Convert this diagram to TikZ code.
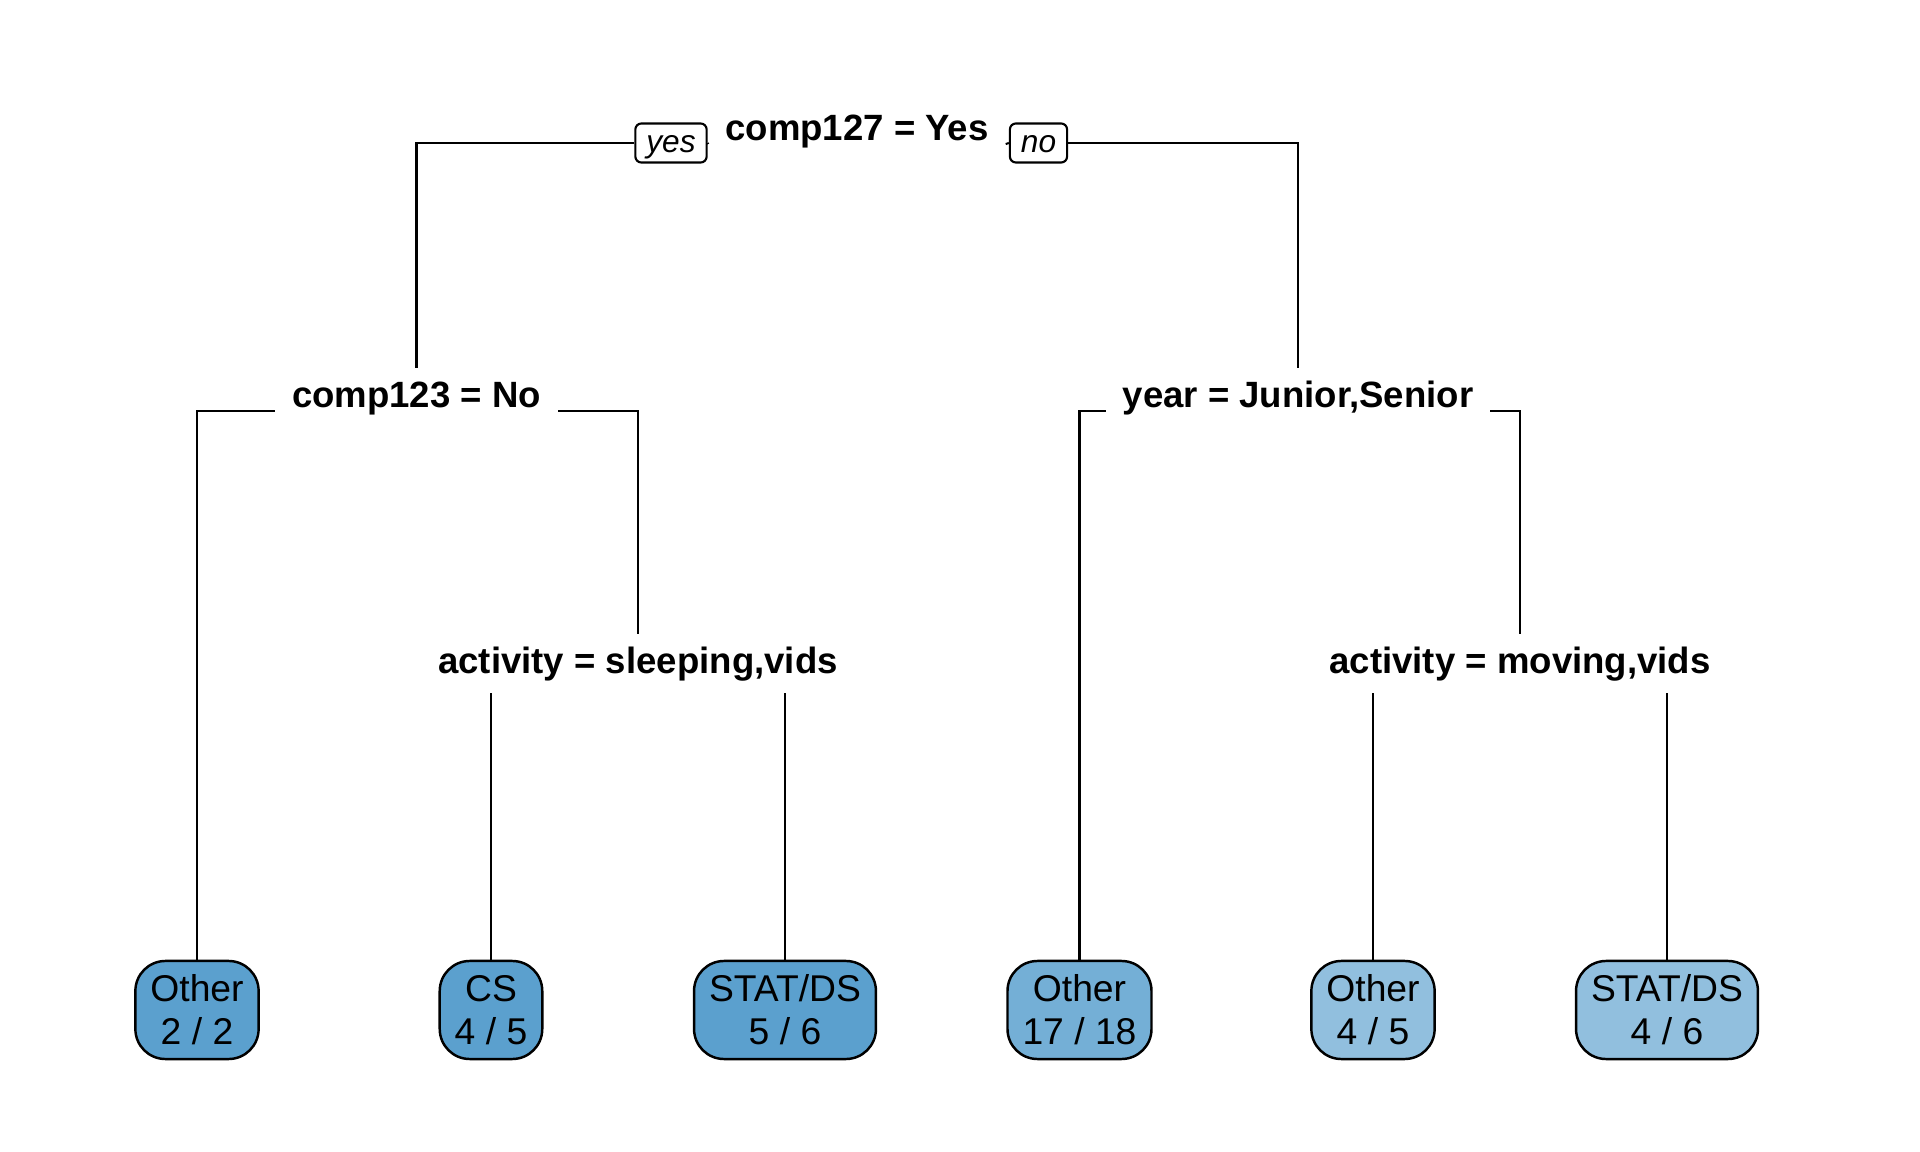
\documentclass[tikz,border=0pt]{standalone}
\usepackage{fontspec}
\setmainfont{Liberation Sans}
\definecolor{bleuA}{RGB}{91,160,206}
\definecolor{bleuB}{RGB}{116,175,214}
\definecolor{bleuC}{RGB}{145,191,222}
\begin{document}
\begin{tikzpicture}[x=0.01cm,y=-0.01cm,line width=0.6pt,
  coupe/.style={font=\fontsize{10.4}{12}\selectfont\bfseries,inner xsep=0.16cm,inner ysep=0pt,
    text height=0.39cm,text depth=0.02cm,anchor=base},
  feuille/.style={draw,line width=0.7pt,rounded corners=0.3cm,inner xsep=0.15cm,
    minimum height=0.98cm,align=center,font=\fontsize{10.6}{12.23}\selectfont},
  etiq/.style={draw,rounded corners=0.06cm,inner xsep=0.11cm,inner ysep=0pt,
    text height=0.24cm,text depth=0.04cm,minimum height=0.39cm,font=\fontsize{9}{10}\selectfont\itshape}]
\useasboundingbox (0,0) rectangle (1920,1152);

% noeuds de coupe
\node[coupe] (root) at (857,141) {comp127 = Yes};
\node[coupe] (c123) at (416.5,408) {comp123 = No};
\node[coupe] (year) at (1298,408) {year = Junior,Senior};
\node[coupe] (act1) at (638,674) {activity = sleeping,vids};
\node[coupe] (act2) at (1520,674) {activity = moving,vids};
\node[etiq] (yes) at (671,143) {yes};
\node[etiq] (no) at (1038.5,143) {no};

% feuilles
\node[feuille,fill=bleuA] (f1) at (197,1010) {Other\\2 / 2};
\node[feuille,fill=bleuA] (f2) at (491,1010) {CS\\4 / 5};
\node[feuille,fill=bleuA] (f3) at (785,1010) {STAT/DS\\5 / 6};
\node[feuille,fill=bleuB] (f4) at (1079.5,1010) {Other\\17 / 18};
\node[feuille,fill=bleuC] (f5) at (1373,1010) {Other\\4 / 5};
\node[feuille,fill=bleuC] (f6) at (1667,1010) {STAT/DS\\4 / 6};

% branches
\draw (yes.west) -| (c123.north);
\draw (yes.east) -- (root.south west);
\draw (root.south east) -- (no.west);
\draw (no.east) -| (year.north);
\draw (c123.south west) -| (f1.north);
\draw (c123.south east) -| (act1.north);
\draw (year.south west) -| (f4.north);
\draw (year.south east) -| (act2.north);
\coordinate (a1) at ([yshift=-0.16cm]act1.south);
\coordinate (a2) at ([yshift=-0.16cm]act2.south);
\draw (f2.north) -- (f2.north |- a1);
\draw (f3.north) -- (f3.north |- a1);
\draw (f5.north) -- (f5.north |- a2);
\draw (f6.north) -- (f6.north |- a2);
\end{tikzpicture}
\end{document}
